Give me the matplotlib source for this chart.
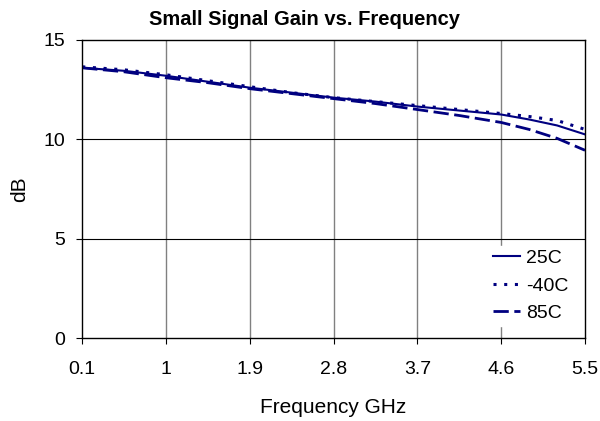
import matplotlib
matplotlib.use("Agg")
import matplotlib.pyplot as plt

plt.rcParams['font.family'] = ['Liberation Sans', 'DejaVu Sans']

freq = [0.1, 0.55, 1.0, 1.45, 1.9, 2.35, 2.8, 3.25, 3.7, 4.15, 4.6, 4.9, 5.2, 5.5]
gain_25c = [13.6, 13.45, 13.2, 12.9, 12.6, 12.35, 12.1, 11.9, 11.65, 11.45, 11.25, 11.0, 10.7, 10.25]
gain_m40c = [13.65, 13.5, 13.25, 12.95, 12.65, 12.35, 12.1, 11.9, 11.7, 11.5, 11.3, 11.15, 10.95, 10.5]
gain_85c = [13.6, 13.4, 13.1, 12.85, 12.55, 12.3, 12.05, 11.8, 11.5, 11.2, 10.85, 10.5, 10.05, 9.45]

xticks = [0.1, 1, 1.9, 2.8, 3.7, 4.6, 5.5]
xticklabels = ["0.1", "1", "1.9", "2.8", "3.7", "4.6", "5.5"]
yticks = [0, 5, 10, 15]

navy = "#000080"

fig = plt.figure(figsize=(6, 4.21), dpi=100)
ax = fig.add_axes([0.137, 0.197, 0.838, 0.708])

ax.plot(freq, gain_25c, color=navy, lw=1.5, label="25C")
ax.plot(freq, gain_m40c, color=navy, lw=2.2, ls=(0, (1, 2.5)), label="-40C")
ax.plot(freq, gain_85c, color=navy, lw=2, ls=(0, (5.5, 2)), label="85C")

ax.set_xlim(0.1, 5.5)
ax.set_ylim(0, 15)
ax.set_xticks(xticks)
ax.set_xticklabels(xticklabels)
ax.set_yticks(yticks)
for x in xticks[1:-1]:
    ax.axvline(x, color="#808080", lw=1, zorder=0)
for y in yticks[1:-1]:
    ax.axhline(y, color="black", lw=0.8, zorder=0)

for s in ax.spines.values():
    s.set_color("black")
    s.set_linewidth(1)

ax.tick_params(direction="out", length=4.5, labelsize=14, colors="black")
ax.tick_params(axis="x", pad=12)
ax.tick_params(axis="y", pad=8)
ax.set_xlabel("Frequency GHz", fontsize=15, labelpad=14.5)
ax.set_ylabel("dB", fontsize=15, labelpad=10)
fig.text(0.508, 0.94, "Small Signal Gain vs. Frequency", fontsize=14.5,
         fontweight="bold", ha="center", va="baseline")

leg = ax.legend(loc="lower right", bbox_to_anchor=(0.982, 0.028), frameon=True,
                fontsize=14, handlelength=1.4, handletextpad=0.3, labelspacing=0.5,
                borderaxespad=0.2, borderpad=0.2, fancybox=False, edgecolor="white",
                framealpha=1)

fig.savefig("out.png", dpi=100)
